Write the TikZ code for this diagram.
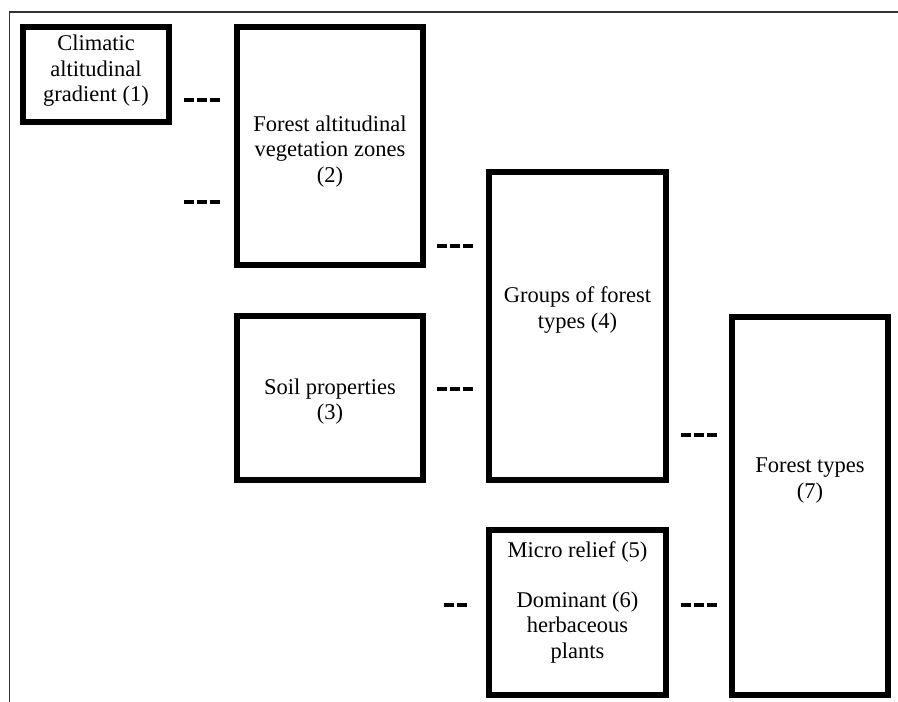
\documentclass[tikz,border=0pt]{standalone}
\usepackage{fontspec}
\setmainfont{Liberation Serif}
\begin{document}
\begin{tikzpicture}[x=1pt,y=-1pt,
  box/.style={draw=black,line width=6pt,inner sep=0pt,fill=white},
  lbl/.style={align=center,inner sep=0pt,font=\fontsize{22.5}{25.5}\selectfont},
  gapmark/.style={line width=3.5pt,dash pattern=on 10pt off 3pt},
  frame/.style={draw=black!80,line width=1.2pt}]
\useasboundingbox (0,0) rectangle (898,702);
% frame lines
\coordinate (fc) at (9.5,12);
\coordinate (fr) at (898,12);
\coordinate (fb) at (9.5,702);
\draw[frame] (fr) -- (fc) -- (fb);
% boxes
\node[box,minimum width=146pt,minimum height=95pt] (b1) at (96,74.5) {};
\node[box,minimum width=186pt,minimum height=238pt] (b2) at (330,146) {};
\node[box,minimum width=186pt,minimum height=164pt] (b3) at (330,398) {};
\node[box,minimum width=177pt,minimum height=308pt] (b4) at (577.5,326) {};
\node[box,minimum width=177pt,minimum height=165pt] (b5) at (577.5,612.5) {};
\node[box,minimum width=156pt,minimum height=378pt] (b7) at (810,506) {};
% texts
\node[lbl] (t1) at (96,71) {Climatic\\altitudinal\\gradient (1)};
\node[lbl] (t2) at (330,151.5) {Forest altitudinal\\vegetation zones\\(2)};
\node[lbl] (t3) at (330,401.5) {Soil properties\\(3)};
\node[lbl] (t4) at (577.5,310) {Groups of forest\\types (4)};
\node[lbl] (t5) at (577.5,602) {Micro relief (5)\\[24.5pt]Dominant (6)\\herbaceous\\plants};
\node[lbl] (t7) at (810,480.5) {Forest types\\(7)};
% dash marks between the boxes
\coordinate (d1a) at (184,100);   \coordinate (d1b) at (220,100);
\coordinate (d2a) at (184,202);   \coordinate (d2b) at (220,202);
\coordinate (d3a) at (437,246);   \coordinate (d3b) at (473,246);
\coordinate (d4a) at (437,389);   \coordinate (d4b) at (473,389);
\coordinate (d5a) at (681,435);   \coordinate (d5b) at (717,435);
\coordinate (d6a) at (681,605);   \coordinate (d6b) at (717,605);
\coordinate (d7a) at (443.5,605); \coordinate (d7b) at (466.5,605);
\foreach \d in {d1,d2,d3,d4,d5,d6,d7}
  \draw[gapmark] (\d a) -- (\d b);
\end{tikzpicture}
\end{document}
